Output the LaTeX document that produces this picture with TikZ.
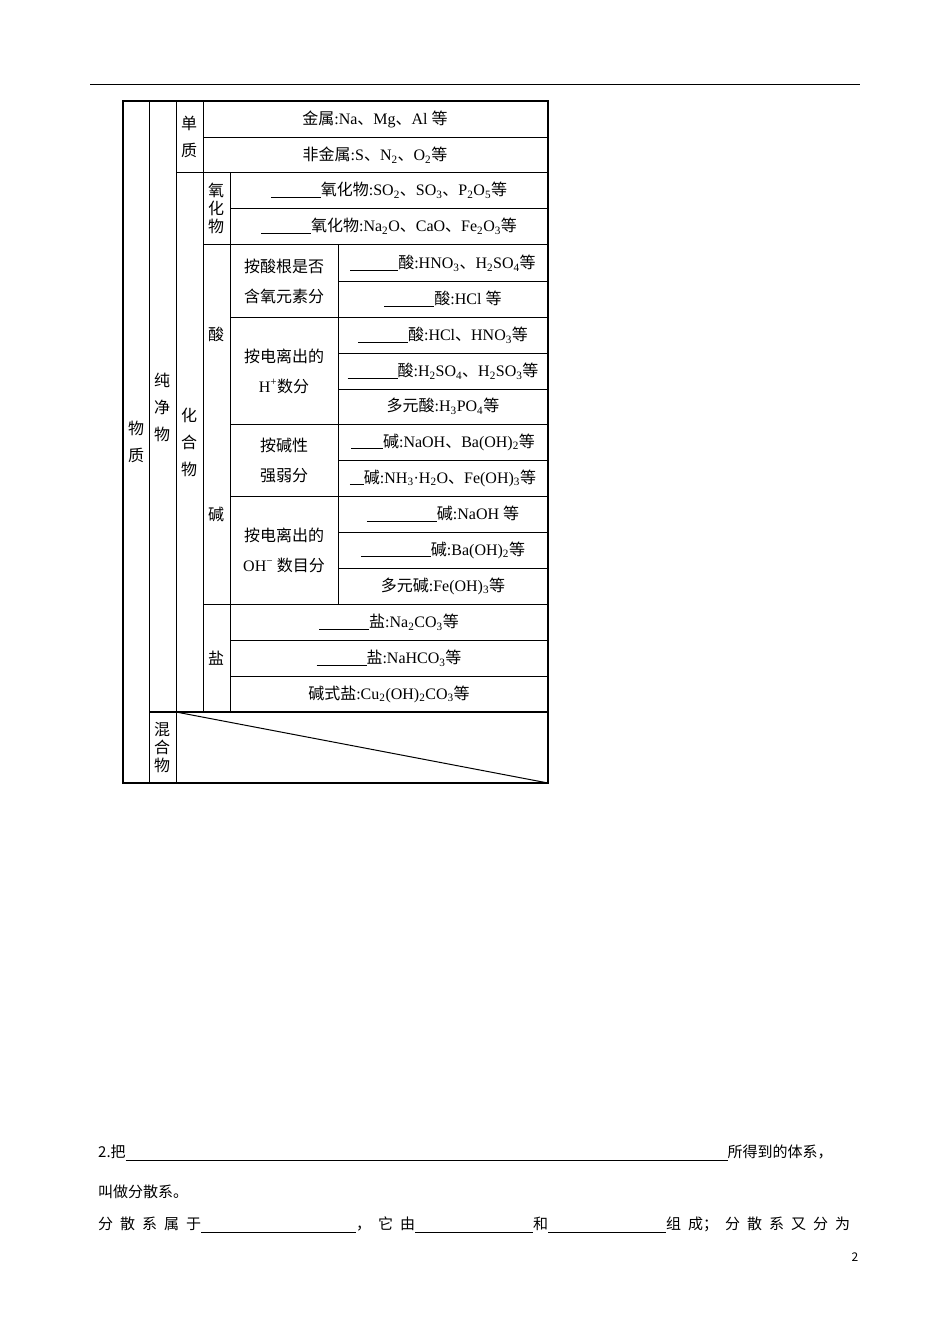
\documentclass[tikz,border=0pt]{standalone}
\usepackage{fontspec}
\setmainfont{Noto Sans CJK SC}
\newfontfamily\lat{Liberation Serif}
\newcommand{\sbs}[1]{\textsubscript{#1}}
\newcommand{\dn}{{\rmfamily 、}}
\newcommand{\bl}[1]{\rule[-2pt]{#1pt}{0.8pt}}
\begin{document}
\begin{tikzpicture}[x=1pt,y=-1pt,
  t/.style={font=\fontsize{16}{18}\selectfont,inner sep=0pt},
  v/.style={font=\fontsize{16}{27}\selectfont,align=center,inner sep=0pt},
  vt/.style={font=\fontsize{16}{18}\selectfont,align=center,inner sep=0pt},
  ln/.style={line width=1pt},
  txt/.style={font=\fontsize{15}{18}\selectfont,anchor=west,inner sep=0pt}]
\useasboundingbox (0,0) rectangle (950,1344);
\draw[line width=1pt] (90,84) -- (860,84);
% grid
\draw[line width=1.8pt] (123,101) rectangle (548,783);
\foreach \x/\a/\b in {149/101/783,176/101/783,203/101/712,230/172/712,338/244/604}
  \draw[ln] (\x,\a) -- (\x,\b);
\foreach \y/\a in {137/203,172/176,208/230,244/203,281/338,317/230,353/338,389/338,424/230,460/338,496/230,532/338,568/338,604/203,640/230,676/230}
  \draw[ln] (\a,\y) -- (548,\y);
\draw[line width=1.6pt] (149,712) -- (548,712);
\draw[ln] (176,712) -- (548,783);
% vertical labels
\node[v] (wz) at (136,442) {物\\质};
\node[v] (cjw) at (162,407) {纯\\净\\物};
\node[v] (dz) at (189,137) {单\\质};
\node[v] (hhw) at (189,442) {化\\合\\物};
\node[vt] (yhw) at (216,208) {氧\\化\\物};
\node[t] (suan) at (216,334) {酸};
\node[t] (jian) at (216,514) {碱};
\node[t] (yan) at (216,658) {盐};
\node[vt] (hhw2) at (162,748) {混\\合\\物};
% content
\node[t] (c1) at (375,119) {金属\lat:Na\dn Mg\dn Al \rmfamily 等};
\node[t] (c2) at (375,155) {非金属\lat:S\dn N\sbs{2}\dn O\sbs{2}\rmfamily 等};
\node[t] (c3) at (389,190) {\bl{50}氧化物\lat:SO\sbs{2}\dn SO\sbs{3}\dn P\sbs{2}O\sbs{5}\rmfamily 等};
\node[t] (c4) at (389,226) {\bl{50}氧化物\lat:Na\sbs{2}O\dn CaO\dn Fe\sbs{2}O\sbs{3}\rmfamily 等};
\node[v,font=\fontsize{16}{30}\selectfont] (g1) at (284,281) {按酸根是否\\含氧元素分};
\node[t] (a1) at (443,263) {\bl{48}酸\lat:HNO\sbs{3}\dn H\sbs{2}SO\sbs{4}\rmfamily 等};
\node[t] (a2) at (443,299) {\bl{50}酸\lat:HCl \rmfamily 等};
\node[v,font=\fontsize{16}{30}\selectfont] (g2) at (284,371) {按电离出的\\{\lat H\textsuperscript{+}}数分};
\node[t] (a3) at (443,335) {\bl{50}酸\lat:HCl\dn HNO\sbs{3}\rmfamily 等};
\node[t] (a4) at (443,371) {\bl{50}酸\lat:H\sbs{2}SO\sbs{4}\dn H\sbs{2}SO\sbs{3}\rmfamily 等};
\node[t] (a5) at (443,406) {多元酸\lat:H\sbs{3}PO\sbs{4}\rmfamily 等};
\node[v,font=\fontsize{16}{30}\selectfont] (g3) at (284,460) {按碱性\\强弱分};
\node[t] (b1) at (443,442) {\bl{32}碱\lat:NaOH\dn Ba(OH)\sbs{2}\rmfamily 等};
\node[t] (b2) at (443,478) {\bl{14}碱\lat:NH\sbs{3}·H\sbs{2}O\dn Fe(OH)\sbs{3}\rmfamily 等};
\node[v,font=\fontsize{16}{30}\selectfont] (g4) at (284,550) {按电离出的\\{\lat OH\textsuperscript{−}} 数目分};
\node[t] (b3) at (443,514) {\bl{70}碱\lat:NaOH \rmfamily 等};
\node[t] (b4) at (443,550) {\bl{70}碱\lat:Ba(OH)\sbs{2}\rmfamily 等};
\node[t] (b5) at (443,586) {多元碱\lat:Fe(OH)\sbs{3}\rmfamily 等};
\node[t] (s1) at (389,622) {\bl{50}盐\lat:Na\sbs{2}CO\sbs{3}\rmfamily 等};
\node[t] (s2) at (389,658) {\bl{50}盐\lat:NaHCO\sbs{3}\rmfamily 等};
\node[t] (s3) at (389,694) {碱式盐\lat:Cu\sbs{2}(OH)\sbs{2}CO\sbs{3}\rmfamily 等};
% bottom text
\node[txt] (p1) at (98,1153) {2.把\rule[-3pt]{602pt}{0.7pt}所得到的体系，};
\node[txt] (p2) at (98,1192) {叫做分散系。};
\node[txt] (p3) at (98,1225) {\makebox[752pt][s]{分\hfill 散\hfill 系\hfill 属\hfill 于\rule[-3pt]{155pt}{0.7pt}，\hfill 它\hfill 由\rule[-3pt]{118pt}{0.7pt}和\rule[-3pt]{118pt}{0.7pt}组\hfill 成；\hfill 分\hfill 散\hfill 系\hfill 又\hfill 分\hfill 为}};
\node[t,font=\fontsize{12}{14}\selectfont] (pg) at (855,1257) {2};
\end{tikzpicture}
\end{document}
